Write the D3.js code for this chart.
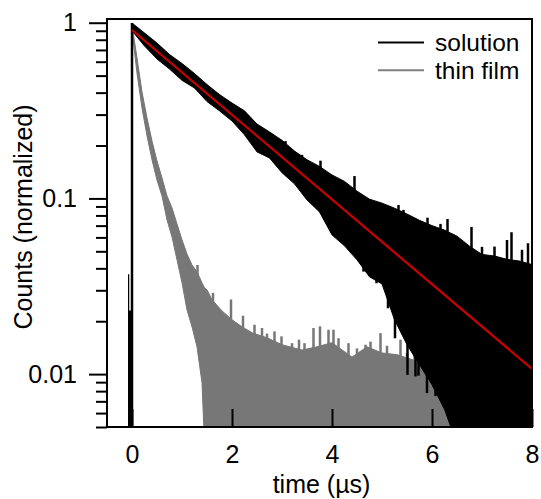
<!DOCTYPE html>
<html>
<head>
<meta charset="utf-8">
<script src="https://cdn.jsdelivr.net/npm/d3@7/dist/d3.min.js"></script>
<style>
  html, body { margin: 0; padding: 0; background: #ffffff; }
  svg { display: block; font-family: "Liberation Sans", Arial, sans-serif; }
</style>
</head>
<body>
<svg></svg>
<script>
// solution decay, upper / lower edge of the noisy trace
var solT    = [0, 0.25, 0.5, 0.75, 1.0, 1.25, 1.5, 1.75, 2.0, 2.25, 2.5, 2.75, 3.0, 3.25, 3.5, 3.75,
               4.0, 4.25, 4.5, 4.75, 5.0, 5.25, 5.5, 5.75, 6.0, 6.25, 6.5, 6.75, 7.0, 7.25, 7.5, 7.75, 8.0];
var solHigh = [0.996, 0.874, 0.766, 0.659, 0.586, 0.514, 0.445, 0.390, 0.349, 0.315, 0.265, 0.239, 0.214, 0.186, 0.166, 0.152,
               0.136, 0.125, 0.110, 0.0990, 0.0940, 0.0880, 0.0815, 0.0750, 0.0700, 0.0660, 0.0610, 0.0535, 0.048, 0.047, 0.045, 0.044, 0.042];
var solLow  = [0.90, 0.737, 0.622, 0.545, 0.47, 0.425, 0.356, 0.315, 0.276, 0.230, 0.184, 0.170, 0.140, 0.121, 0.098, 0.0838,
               0.0620, 0.0537, 0.0447, 0.0358, 0.0326, 0.0204, 0.0147, 0.0113, 0.0087, 0.0063, 0.004, 0.004, 0.004, 0.004, 0.004, 0.004, 0.004];

// spikes sticking out of the solution trace
var solSpikeT    = [2.50, 3.07, 3.40, 3.77, 4.45, 5.33, 5.43, 5.67, 5.91, 6.17, 6.31, 6.79, 7.00, 7.25, 7.50, 7.59, 7.80, 7.92,
                    4.63, 4.89, 5.12, 5.26, 5.47, 5.51, 5.67, 5.73, 5.90, 6.03, 6.07, 6.33];
var solSpikeTip  = [0.251, 0.212, 0.177, 0.164, 0.134, 0.0918, 0.086, 0.0747, 0.0777, 0.0716, 0.0764, 0.0688, 0.053, 0.0532, 0.058, 0.0642, 0.051, 0.0556,
                    0.0383, 0.0329, 0.0237, 0.016, 0.0213, 0.0099, 0.0097, 0.0098, 0.0078, 0.0085, 0.0075, 0.006];
var solSpikeBase = [0.22, 0.16, 0.14, 0.10, 0.07, 0.03, 0.03, 0.03, 0.03, 0.03, 0.03, 0.03, 0.03, 0.03, 0.03, 0.03, 0.03, 0.03,
                    0.06, 0.05, 0.05, 0.04, 0.04, 0.03, 0.03, 0.03, 0.03, 0.03, 0.03, 0.03];

// small prompt signal just before t = 0
var preT = [-0.08, -0.055, 0];
var preV = [0.037, 0.023, 0.023];

// thin film decay
var filmT    = [0, 0.1, 0.2, 0.3, 0.4, 0.5, 0.6, 0.7, 0.8, 0.9, 1.0, 1.1, 1.2, 1.3, 1.4, 1.45, 1.5, 1.6, 1.8,
                2.0, 2.2, 2.4, 2.7, 3.0, 3.4, 3.7, 4.0, 4.4, 4.7, 5.0, 5.3, 5.6, 5.9, 6.1, 6.35, 6.5];
var filmHigh = [0.970, 0.630, 0.403, 0.287, 0.212, 0.1634, 0.1308, 0.1033, 0.0883, 0.0716, 0.0581, 0.0483, 0.0418, 0.0382, 0.0331, 0.031, 0.0302, 0.0265, 0.0229,
                0.0204, 0.0186, 0.0172, 0.0161, 0.0147, 0.0137, 0.0143, 0.0151, 0.0125, 0.0143, 0.0132, 0.0129, 0.0121, 0.0113, 0.00965, 0.00928, 0.0076];
var filmLow  = [0.909, 0.517, 0.327, 0.227, 0.166, 0.127, 0.1033, 0.0754, 0.0604, 0.0447, 0.0331, 0.0232, 0.0186, 0.0143, 0.00892, 0.004, 0.004, 0.004, 0.004,
                0.004, 0.004, 0.004, 0.004, 0.004, 0.004, 0.004, 0.004, 0.004, 0.004, 0.004, 0.004, 0.004, 0.004, 0.004, 0.004, 0.004];

var filmSpikeT    = [1.31, 1.62, 1.98, 2.22, 2.45, 2.60, 2.70, 2.85, 2.99, 3.20, 3.34, 3.45, 3.63, 3.76, 3.93, 4.03, 4.13, 4.33,
                     4.50, 4.67, 4.77, 4.97, 5.10, 5.23, 5.37, 5.50, 5.65, 5.83, 6.00];
var filmSpikeTip  = [0.0418, 0.0290, 0.0266, 0.0215, 0.0191, 0.0183, 0.0170, 0.0175, 0.0164, 0.0150, 0.0157, 0.0150, 0.0183, 0.0187, 0.0179, 0.0179, 0.0160, 0.0150,
                     0.0140, 0.0147, 0.0153, 0.0171, 0.0145, 0.0129, 0.0157, 0.0132, 0.0128, 0.0121, 0.0110];
var filmSpikeBase = [0.030, 0.020, 0.015, 0.015, 0.015, 0.012, 0.012, 0.012, 0.012, 0.012, 0.012, 0.012, 0.012, 0.012, 0.012, 0.012, 0.012, 0.012,
                     0.011, 0.011, 0.011, 0.011, 0.011, 0.011, 0.011, 0.011, 0.010, 0.010, 0.009];

// single exponential fit
var fitT = [0, 8];
var fitV = [0.909, 0.0107];

var majorY = [1, 0.1, 0.01];
var xTicks = [0, 2, 4, 6, 8];

window.onload = function(){
    var svgCanvas = d3.select("svg")
        .attr("width", 541)
        .attr("height", 499);

    var left = 107, right = 532, top = 19, bottom = 427;

    var x = d3.scaleLinear().domain([-0.5, 8]).range([left, right]);
    var y = d3.scaleLog().domain([0.005, 1.05]).range([bottom, top]);

    svgCanvas.append("clipPath").attr("id", "plotClip")
        .append("rect")
        .attr("x", left).attr("y", top)
        .attr("width", right - left).attr("height", bottom - top);

    var plot = svgCanvas.append("g").attr("clip-path", "url(#plotClip)");

    var filmColor = "#777777";

    // thin film trace (drawn under the solution)
    var film = filmT.map(function(t, i){ return {t: t, hi: filmHigh[i], lo: filmLow[i]}; });
    plot.append("path")
        .datum(film)
        .attr("fill", filmColor)
        .attr("stroke", filmColor)
        .attr("stroke-width", 1)
        .attr("d", d3.area()
            .x(function(d){ return x(d.t); })
            .y0(function(d){ return y(d.lo); })
            .y1(function(d){ return y(d.hi); }));

    plot.selectAll(".filmSpike")
        .data(filmSpikeT).enter()
        .append("line")
        .attr("class", "filmSpike")
        .attr("x1", function(t){ return x(t); })
        .attr("x2", function(t){ return x(t); })
        .attr("y1", function(t, i){ return y(filmSpikeTip[i]); })
        .attr("y2", function(t, i){ return y(filmSpikeBase[i]); })
        .attr("stroke", filmColor)
        .attr("stroke-width", 2.5);

    // solution trace
    var sol = solT.map(function(t, i){ return {t: t, hi: solHigh[i], lo: solLow[i]}; });
    plot.append("path")
        .datum(sol)
        .attr("fill", "#000")
        .attr("stroke", "#000")
        .attr("stroke-width", 1)
        .attr("d", d3.area()
            .x(function(d){ return x(d.t); })
            .y0(function(d){ return y(d.lo); })
            .y1(function(d){ return y(d.hi); }));

    plot.selectAll(".solSpike")
        .data(solSpikeT).enter()
        .append("line")
        .attr("class", "solSpike")
        .attr("x1", function(t){ return x(t); })
        .attr("x2", function(t){ return x(t); })
        .attr("y1", function(t, i){ return y(solSpikeTip[i]); })
        .attr("y2", function(t, i){ return y(solSpikeBase[i]); })
        .attr("stroke", "#000")
        .attr("stroke-width", 2.5);

    // signal before the pulse and the rising edge at t = 0
    var pre = preT.map(function(t, i){ return {t: t, v: preV[i]}; });
    plot.append("path")
        .datum(pre)
        .attr("fill", "#000")
        .attr("d", d3.area()
            .curve(d3.curveStepAfter)
            .x(function(d){ return x(d.t); })
            .y0(y(0.004))
            .y1(function(d){ return y(d.v); }));

    plot.append("line")
        .attr("x1", x(0)).attr("x2", x(0))
        .attr("y1", y(0.004)).attr("y2", y(solHigh[0]))
        .attr("stroke", "#000")
        .attr("stroke-width", 2.5);

    // fit line
    var fit = fitT.map(function(t, i){ return {t: t, v: fitV[i]}; });
    plot.append("path")
        .datum(fit)
        .attr("fill", "none")
        .attr("stroke", "#cc0000")
        .attr("stroke-width", 2.2)
        .attr("d", d3.line()
            .x(function(d){ return x(d.t); })
            .y(function(d){ return y(d.v); }));

    // y axis: long ticks for decades, short ones in between
    var minorY = y.ticks().filter(function(v){ return majorY.indexOf(v) < 0; });
    svgCanvas.append("g")
        .attr("transform", "translate(" + left + ",0)")
        .call(d3.axisLeft(y).tickValues(minorY).tickSize(11).tickFormat(""))
        .call(function(g){ g.select(".domain").remove(); })
        .selectAll("line").attr("stroke-width", 2);

    var yAxis = svgCanvas.append("g")
        .attr("transform", "translate(" + left + ",0)")
        .call(d3.axisLeft(y).tickValues(majorY).tickSize(18).tickPadding(12)
            .tickFormat(function(v){ return String(v); }));
    yAxis.select(".domain").remove();
    yAxis.selectAll("line").attr("stroke-width", 2);
    yAxis.selectAll("text").attr("font-size", 25).attr("fill", "#000")
        .style("font-family", "'Liberation Sans', Arial, sans-serif");

    // x axis: ticks point into the plot
    var xAxis = svgCanvas.append("g")
        .attr("transform", "translate(0," + bottom + ")")
        .call(d3.axisBottom(x).tickValues(xTicks).tickSize(-18).tickPadding(18)
            .tickFormat(d3.format("d")));
    xAxis.select(".domain").remove();
    xAxis.selectAll("line").attr("stroke-width", 2);
    xAxis.selectAll("text").attr("font-size", 25).attr("fill", "#000")
        .style("font-family", "'Liberation Sans', Arial, sans-serif");

    // frame
    svgCanvas.append("rect")
        .attr("x", left).attr("y", top)
        .attr("width", right - left).attr("height", bottom - top)
        .attr("fill", "none")
        .attr("stroke", "#000")
        .attr("stroke-width", 2);

    // axis titles
    svgCanvas.append("text")
        .attr("x", (left + right) / 2 + 2)
        .attr("y", 493)
        .attr("text-anchor", "middle")
        .attr("font-size", 25)
        .text("time (µs)");

    svgCanvas.append("text")
        .attr("transform", "translate(32,217) rotate(-90)")
        .attr("text-anchor", "middle")
        .attr("font-size", 25)
        .text("Counts (normalized)");

    // legend
    var legendNames = ["solution", "thin film"];
    var legendColors = ["#000", "#808080"];
    var legend = svgCanvas.selectAll(".legend")
        .data(legendNames).enter()
        .append("g")
        .attr("class", "legend")
        .attr("transform", function(d, i){ return "translate(0," + (42.5 + i * 27.7) + ")"; });
    legend.append("line")
        .attr("x1", 378).attr("x2", 424)
        .attr("stroke", function(d, i){ return legendColors[i]; })
        .attr("stroke-width", 2);
    legend.append("text")
        .attr("x", 435)
        .attr("y", 8.3)
        .attr("font-size", 24.5)
        .text(function(d){ return d; });
}
</script>
</body>
</html>
